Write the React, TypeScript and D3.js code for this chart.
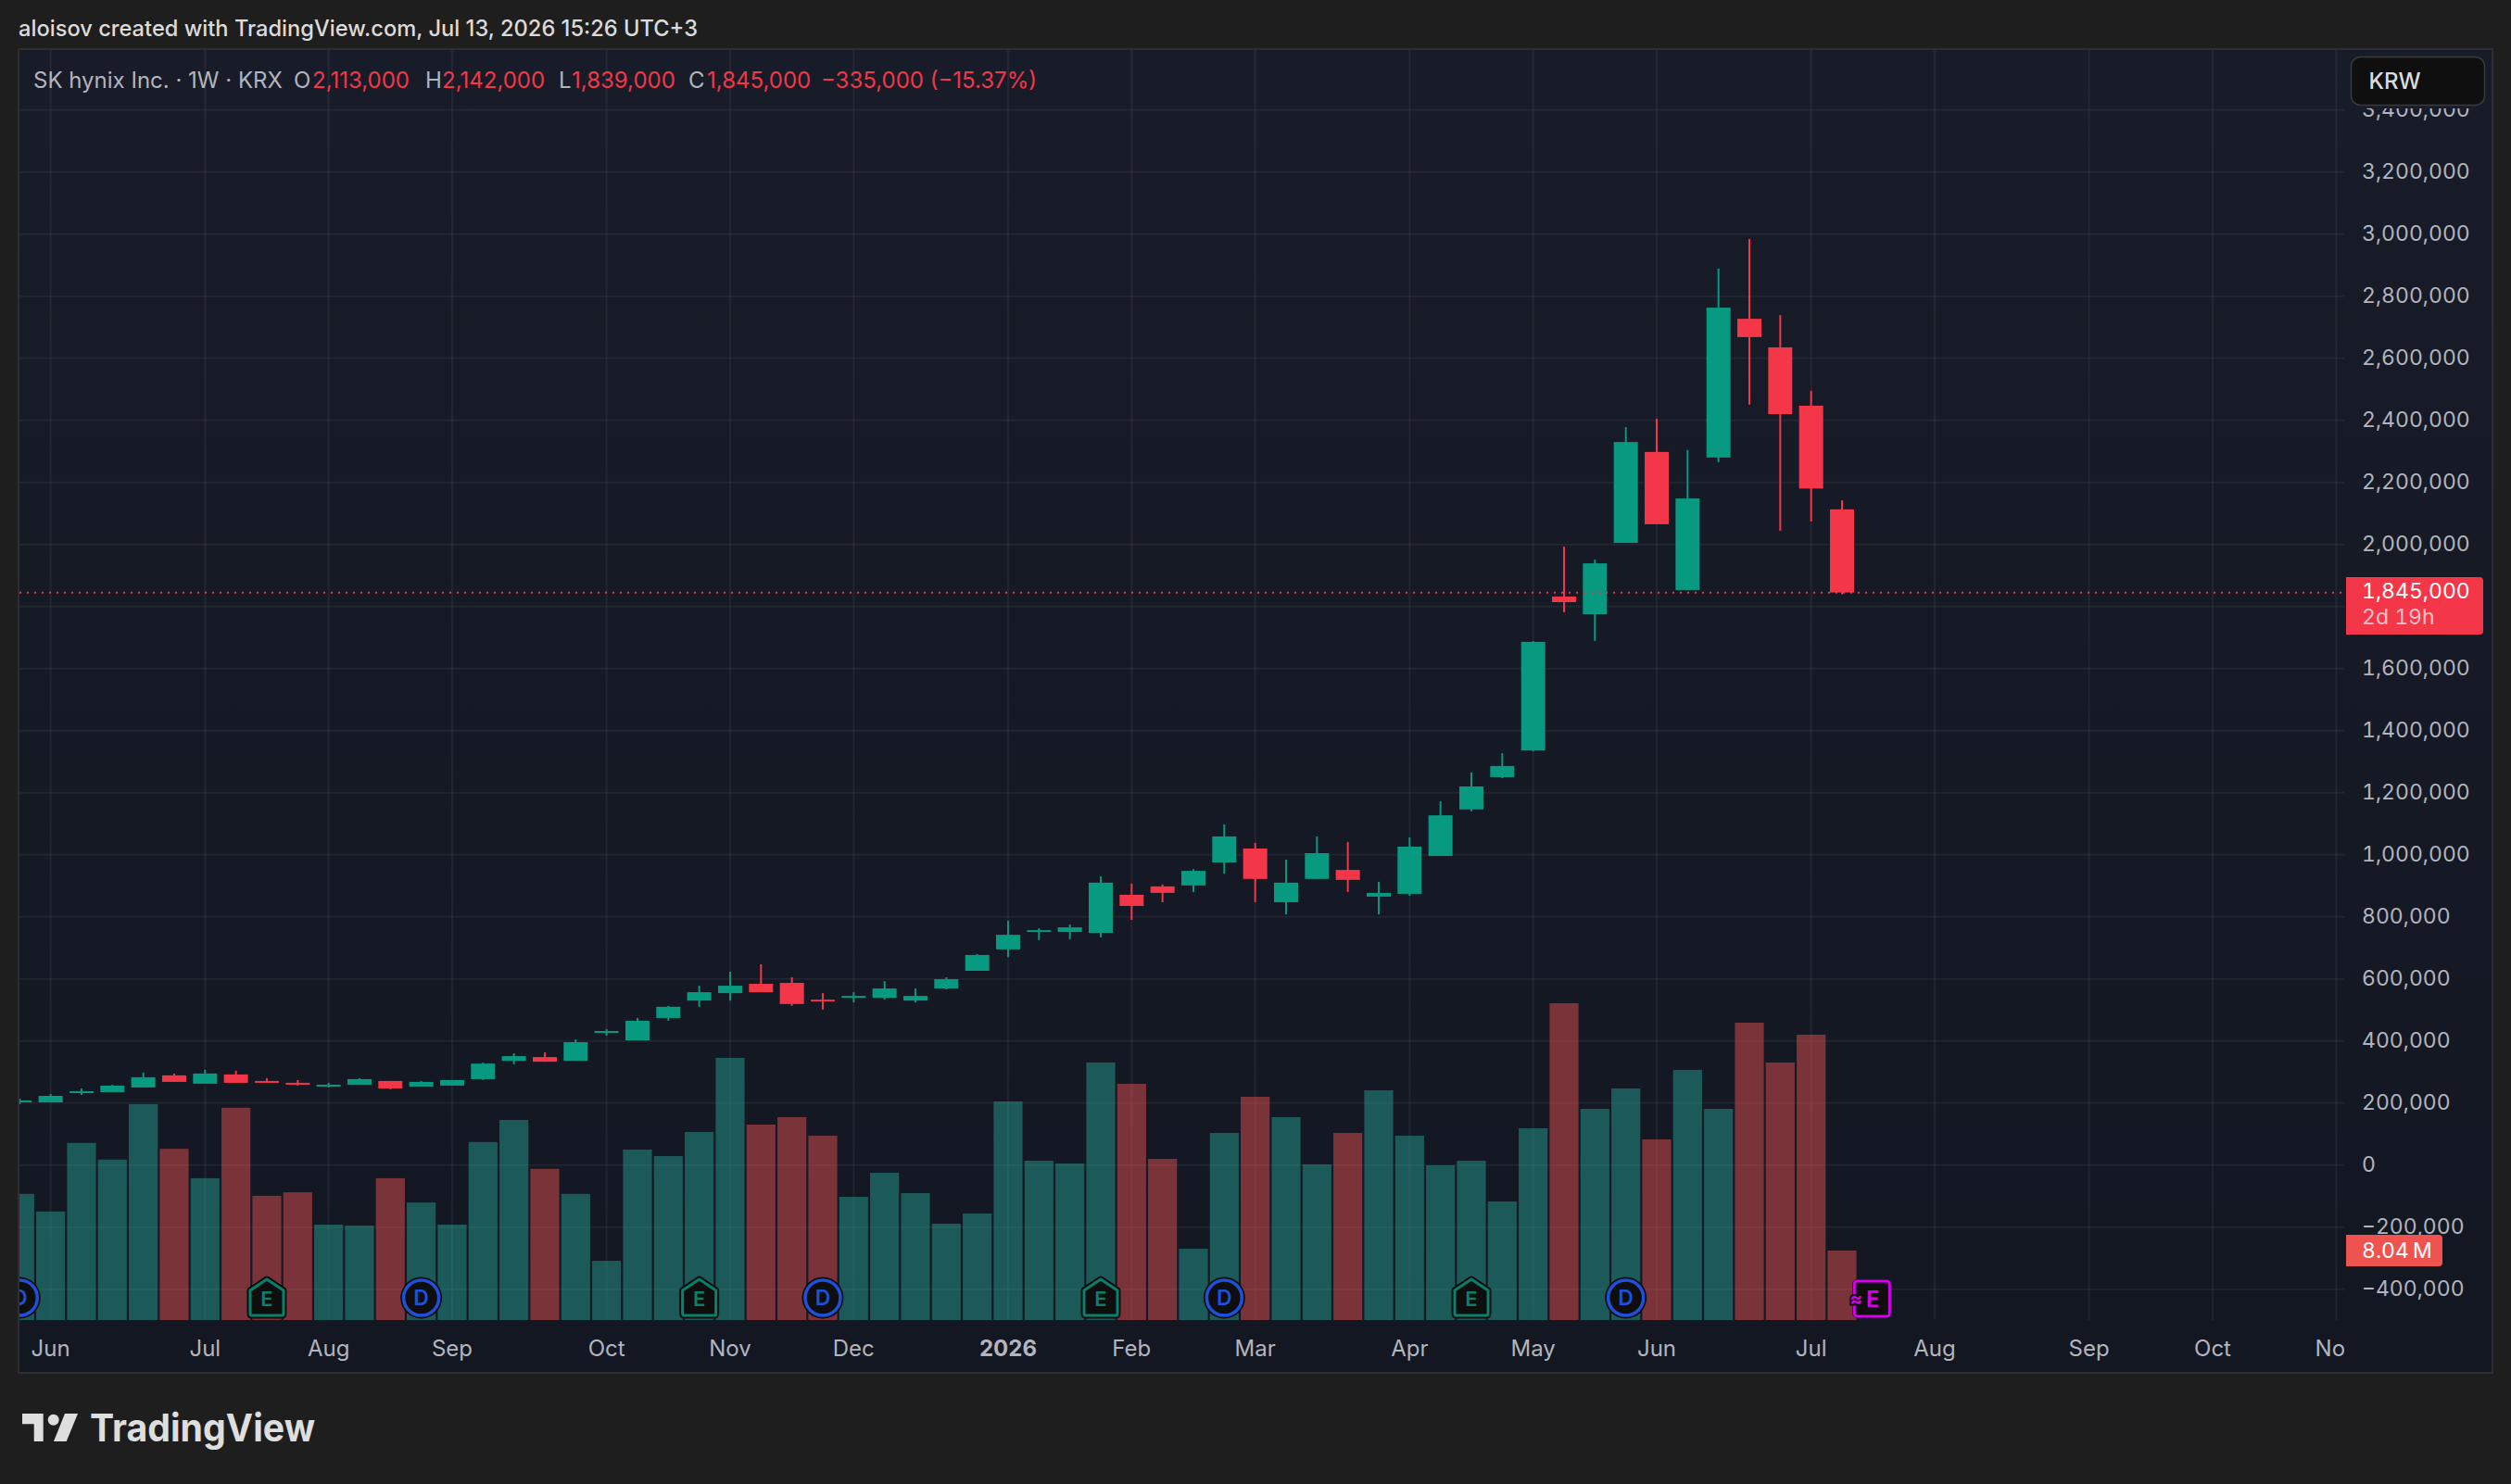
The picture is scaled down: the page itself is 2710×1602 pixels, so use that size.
import React, { useRef, useEffect } from "react";
import * as d3 from "d3";

const WIDTH = 2710;
const HEIGHT = 1602;

// weekly candles
const opens = [202000, 202000, 232000, 235000, 250000, 289000, 262000, 292000, 271000, 265000, 253000, 259000, 271000, 253000, 256000, 277000, 336000, 348000, 336000, 426000, 402000, 474000, 530000, 554000, 584000, 587000, 533000, 539000, 539000, 530000, 569000, 626000, 695000, 751000, 751000, 748000, 871000, 898000, 901000, 975000, 1020000, 847000, 922000, 951000, 865000, 874000, 996000, 1146000, 1250000, 1336000, 1832000, 1775000, 2005000, 2298000, 1853000, 2280000, 2727000, 2635000, 2447000, 2113000];
const highs = [214000, 229000, 247000, 259000, 298000, 295000, 307000, 304000, 280000, 274000, 265000, 280000, 271000, 271000, 274000, 330000, 360000, 363000, 405000, 438000, 474000, 513000, 578000, 623000, 647000, 605000, 554000, 557000, 593000, 569000, 605000, 680000, 787000, 763000, 775000, 930000, 907000, 904000, 954000, 1098000, 1038000, 984000, 1059000, 1041000, 913000, 1056000, 1172000, 1265000, 1327000, 1689000, 1993000, 1951000, 2378000, 2405000, 2304000, 2889000, 2984000, 2739000, 2495000, 2142000];
const lows = [196000, 202000, 226000, 235000, 250000, 268000, 262000, 265000, 265000, 256000, 250000, 259000, 244000, 253000, 256000, 274000, 325000, 333000, 336000, 417000, 402000, 465000, 510000, 530000, 557000, 513000, 501000, 524000, 533000, 524000, 566000, 626000, 670000, 725000, 728000, 734000, 790000, 847000, 880000, 939000, 847000, 808000, 922000, 880000, 808000, 868000, 996000, 1140000, 1247000, 1333000, 1781000, 1689000, 2005000, 2065000, 1853000, 2265000, 2450000, 2044000, 2074000, 1839000];
const closes = [208000, 223000, 238000, 256000, 283000, 268000, 295000, 265000, 265000, 259000, 259000, 277000, 247000, 268000, 274000, 327000, 351000, 333000, 396000, 432000, 465000, 510000, 557000, 578000, 557000, 519000, 527000, 545000, 569000, 545000, 599000, 677000, 742000, 757000, 766000, 910000, 835000, 877000, 948000, 1059000, 922000, 910000, 1005000, 919000, 877000, 1026000, 1127000, 1220000, 1286000, 1686000, 1814000, 1939000, 2330000, 2065000, 2148000, 2763000, 2668000, 2420000, 2180000, 1845000];
// volume in millions
const volumes = [14.6, 12.56, 20.5, 18.57, 24.98, 19.82, 16.41, 24.57, 14.38, 14.78, 11.04, 10.93, 16.41, 13.6, 11.04, 20.6, 23.16, 17.5, 14.6, 6.85, 19.72, 18.97, 21.76, 30.34, 22.62, 23.48, 21.33, 14.26, 17.04, 14.69, 11.15, 12.33, 25.3, 18.44, 18.12, 29.8, 27.34, 18.65, 8.25, 21.65, 25.84, 23.48, 18.01, 21.65, 26.59, 21.33, 17.9, 18.44, 13.72, 22.19, 36.66, 24.44, 26.8, 20.9, 28.94, 24.44, 34.41, 29.8, 33.02, 8.04];

const priceTicks = [3400000, 3200000, 3000000, 2800000, 2600000, 2400000, 2200000, 2000000, 1800000, 1600000, 1400000, 1200000, 1000000, 800000, 600000, 400000, 200000, 0, -200000, -400000];
const hiddenPriceLabel = 1800000; // sits behind the last price tag
const monthLabels = ["Jun", "Jul", "Aug", "Sep", "Oct", "Nov", "Dec", "2026", "Feb", "Mar", "Apr", "May", "Jun", "Jul", "Aug", "Sep", "Oct", "Nov"];
const monthBars = [1, 6, 10, 14, 19, 23, 27, 32, 36, 40, 45, 49, 53, 58, 62, 67, 71, 75];

const earningsBars = [8, 22, 35, 47];
const dividendBars = [0, 13, 26, 39, 52];
const nextEarningsBar = 60;

const legendParts = [
  { text: "SK hynix Inc. · 1W · KRX", x: 36, color: "#b2b5be" },
  { text: "O", x: 317, color: "#b2b5be" },
  { text: "2,113,000", x: 337, color: "#f43649" },
  { text: "H", x: 459, color: "#b2b5be" },
  { text: "2,142,000", x: 477, color: "#f43649" },
  { text: "L", x: 603, color: "#b2b5be" },
  { text: "1,839,000", x: 617, color: "#f43649" },
  { text: "C", x: 743, color: "#b2b5be" },
  { text: "1,845,000", x: 763, color: "#f43649" },
  { text: "−335,000 (−15.37%)", x: 886, color: "#f43649" },
];

const FONT = "Inter, 'Noto Sans', sans-serif";
const UP = "#089981";
const DOWN = "#f43649";
const PLOT_LEFT = 21;
const PLOT_RIGHT = 2530;
const PLOT_BOTTOM = 1425;
const PANEL_TOP = 54;

const App: React.FC = () => {
  const svgRef = useRef<SVGSVGElement | null>(null);

  useEffect(() => {
    if (!svgRef.current) return;
    const svg = d3.select(svgRef.current);
    svg.selectAll("*").remove();

    const x = d3.scaleLinear().domain([0, 59]).range([21.3, 1988]);
    const y = d3.scaleLinear().domain([3000000, -400000]).range([252.7, 1391.7]);
    const yVol = d3.scaleLinear().domain([0, 8.04]).range([PLOT_BOTTOM, 1350]);
    const bars = d3.range(opens.length);

    const defs = svg.append("defs");
    const grad = defs.append("linearGradient").attr("id", "panelBg").attr("x1", 0).attr("x2", 0).attr("y1", 0).attr("y2", 1);
    grad.append("stop").attr("offset", "0%").attr("stop-color", "#181c28");
    grad.append("stop").attr("offset", "100%").attr("stop-color", "#131722");
    defs.append("clipPath").attr("id", "plotClip").append("rect")
      .attr("x", PLOT_LEFT).attr("y", PANEL_TOP).attr("width", PLOT_RIGHT - PLOT_LEFT).attr("height", PLOT_BOTTOM - PANEL_TOP);
    defs.append("clipPath").attr("id", "timeClip").append("rect")
      .attr("x", PLOT_LEFT).attr("y", PLOT_BOTTOM).attr("width", PLOT_RIGHT - PLOT_LEFT).attr("height", 56);
    defs.append("clipPath").attr("id", "markerClip").append("rect")
      .attr("x", PLOT_LEFT).attr("y", PANEL_TOP).attr("width", PLOT_RIGHT - PLOT_LEFT).attr("height", PLOT_BOTTOM - PANEL_TOP + 4);

    svg.append("rect").attr("width", WIDTH).attr("height", HEIGHT).attr("fill", "#1e1e1e");
    svg.append("rect")
      .attr("x", 20).attr("y", 53).attr("width", 2670).attr("height", 1429)
      .attr("fill", "url(#panelBg)").attr("stroke", "#2e2e2e").attr("stroke-width", 2);

    // grid
    const grid = svg.append("g").attr("stroke", "rgba(242,242,242,0.06)").attr("stroke-width", 2);
    grid.selectAll("line.h").data(priceTicks).enter().append("line")
      .attr("x1", PLOT_LEFT).attr("x2", PLOT_RIGHT)
      .attr("y1", d => y(d)).attr("y2", d => y(d));
    grid.selectAll("line.v").data(monthBars).enter().append("line")
      .attr("x1", d => x(d)).attr("x2", d => x(d))
      .attr("y1", PANEL_TOP).attr("y2", PLOT_BOTTOM);

    const plot = svg.append("g").attr("clip-path", "url(#plotClip)");

    // volume
    plot.append("g").selectAll("rect").data(bars).enter().append("rect")
      .attr("x", i => x(i) - 15.6).attr("width", 31.2)
      .attr("y", i => yVol(volumes[i]))
      .attr("height", i => PLOT_BOTTOM - yVol(volumes[i]))
      .attr("fill", i => closes[i] >= opens[i] ? "rgba(38,166,154,0.47)" : "rgba(239,83,80,0.47)");

    // candles
    const candle = plot.append("g").selectAll("g").data(bars).enter().append("g")
      .attr("fill", i => closes[i] >= opens[i] ? UP : DOWN);
    candle.append("rect")
      .attr("x", i => x(i) - 1).attr("width", 2)
      .attr("y", i => y(highs[i]))
      .attr("height", i => y(lows[i]) - y(highs[i]));
    candle.append("rect")
      .attr("x", i => x(i) - 13).attr("width", 26)
      .attr("y", i => y(Math.max(opens[i], closes[i])))
      .attr("height", i => Math.max(2, Math.abs(y(opens[i]) - y(closes[i]))));

    // last price line
    svg.append("line")
      .attr("x1", PLOT_LEFT).attr("x2", PLOT_RIGHT)
      .attr("y1", y(closes[59])).attr("y2", y(closes[59]))
      .attr("stroke", DOWN).attr("stroke-width", 2).attr("stroke-dasharray", "2 6");

    // earnings / dividend markers
    const markers = svg.append("g").attr("clip-path", "url(#markerClip)").attr("font-family", FONT);
    const markerY = 1401;
    const pentagon = "M0,-20 L18,-8 V17 Q18,19 16,19 H-16 Q-18,19 -18,17 V-8 Z";

    const dg = markers.selectAll("g.d").data(dividendBars).enter().append("g")
      .attr("transform", d => `translate(${x(d)},${markerY})`);
    dg.append("circle").attr("r", 22.5).attr("fill", "#0e0e0e");
    dg.append("circle").attr("r", 19).attr("fill", "#0e0e0e").attr("stroke", "#1d50dc").attr("stroke-width", 3.5);
    dg.append("text").text("D").attr("text-anchor", "middle").attr("dy", "0.36em")
      .attr("fill", "#1d50dc").attr("font-size", 23).attr("font-weight", 600);

    const eg = markers.selectAll("g.e").data(earningsBars).enter().append("g")
      .attr("transform", d => `translate(${x(d)},${markerY})`);
    eg.append("path").attr("d", pentagon).attr("fill", "#0e0e0e").attr("stroke", "#0e0e0e").attr("stroke-width", 7).attr("stroke-linejoin", "round");
    eg.append("path").attr("d", pentagon).attr("fill", "#0e0e0e").attr("stroke", "#07806c").attr("stroke-width", 3).attr("stroke-linejoin", "round");
    eg.append("text").text("E").attr("text-anchor", "middle").attr("dy", "0.42em")
      .attr("fill", "#07806c").attr("font-size", 22).attr("font-weight", 600);

    const next = markers.append("g").attr("transform", `translate(${x(nextEarningsBar) - 1},${markerY + 1})`);
    next.append("rect").attr("x", -21).attr("y", -21).attr("width", 42).attr("height", 42).attr("rx", 5).attr("fill", "#0e0e0e");
    next.append("rect").attr("x", -19).attr("y", -19).attr("width", 38).attr("height", 38).attr("rx", 3)
      .attr("fill", "#0e0e0e").attr("stroke", "#d500f0").attr("stroke-width", 3);
    next.append("text").text("E").attr("x", 1).attr("text-anchor", "middle").attr("dy", "0.36em")
      .attr("fill", "#d500f0").attr("font-size", 24).attr("font-weight", 600);
    next.append("text").text("≈").attr("x", -17).attr("text-anchor", "middle").attr("dy", "0.36em")
      .attr("fill", "#d500f0").attr("font-size", 20).attr("font-weight", 700)
      .attr("stroke", "#0e0e0e").attr("stroke-width", 4).attr("paint-order", "stroke");

    // price axis
    const priceAxis = svg.append("g").attr("transform", "translate(2549,0)")
      .call(d3.axisRight(y).tickValues(priceTicks.filter(d => d !== hiddenPriceLabel)).tickSize(0).tickPadding(0).tickFormat(d3.format(",") as any));
    priceAxis.select(".domain").remove();
    priceAxis.selectAll("text").attr("font-family", FONT).attr("font-size", 23).attr("fill", "#b2b5be").attr("dy", "0.3em")
      .style("font-variant-numeric", "tabular-nums");

    // time axis
    const timeLabels = svg.append("g").attr("clip-path", "url(#timeClip)");
    timeLabels.selectAll("text").data(monthBars).enter().append("text")
      .attr("x", d => x(d)).attr("y", 1456).attr("dy", "0.34em")
      .attr("text-anchor", "middle")
      .attr("font-family", FONT).attr("font-size", 24)
      .attr("font-weight", (_, i) => monthLabels[i] === "2026" ? 700 : 400)
      .attr("fill", "#b2b5be")
      .text((_, i) => monthLabels[i]);

    // last price and volume labels
    svg.append("path")
      .attr("d", "M2532,623 H2676 a4,4 0 0 1 4,4 V681 a4,4 0 0 1 -4,4 H2532 Z")
      .attr("fill", DOWN);
    svg.append("text").text(d3.format(",")(closes[59]))
      .attr("x", 2549).attr("y", 638).attr("dy", "0.34em")
      .attr("font-family", FONT).attr("font-size", 23).attr("fill", "#ffffff")
      .style("font-variant-numeric", "tabular-nums");
    svg.append("text").text("2d 19h")
      .attr("x", 2549).attr("y", 667).attr("dy", "0.32em")
      .attr("font-family", FONT).attr("font-size", 23).attr("fill", "rgba(255,255,255,0.7)")
      .style("font-variant-numeric", "tabular-nums");

    svg.append("path")
      .attr("d", "M2532,1333 H2632 a4,4 0 0 1 4,4 V1363 a4,4 0 0 1 -4,4 H2532 Z")
      .attr("fill", "#ef5350");
    svg.append("text").text(`${volumes[59].toFixed(2)}\u202fM`)
      .attr("x", 2549).attr("y", yVol(volumes[59])).attr("dy", "0.34em")
      .attr("font-family", FONT).attr("font-size", 23).attr("fill", "#ffffff")
      .style("font-variant-numeric", "tabular-nums");

    // currency box, with a halo of panel colour that trims the tick label under it
    svg.append("rect")
      .attr("x", 2533).attr("y", 58).attr("width", 153).attr("height", 59)
      .attr("fill", "#181c28");
    svg.append("rect")
      .attr("x", 2537.5).attr("y", 61.5).attr("width", 144).attr("height", 52).attr("rx", 10)
      .attr("fill", "#0f0f0f").attr("stroke", "#3a3a3a").attr("stroke-width", 1.5);
    svg.append("text").text("KRW")
      .attr("x", 2556.5).attr("y", 96)
      .attr("font-family", FONT).attr("font-size", 24).attr("font-weight", 500).attr("fill", "#dbdbdb");

    // legend
    svg.append("g").selectAll("text").data(legendParts).enter().append("text")
      .attr("x", d => d.x).attr("y", 86).attr("dy", "0.36em")
      .attr("font-family", FONT).attr("font-size", 24)
      .attr("fill", d => d.color)
      .text(d => d.text);

    // header
    svg.append("text").text("aloisov created with TradingView.com, Jul 13, 2026 15:26 UTC+3")
      .attr("x", 20).attr("y", 39)
      .attr("font-family", FONT).attr("font-size", 24).attr("font-weight", 500).attr("fill", "#dbdbdb")
      .attr("textLength", 733).attr("lengthAdjust", "spacingAndGlyphs");

    // logo
    const logo = svg.append("g").attr("fill", "#dedede");
    logo.append("path").attr("d", "M24,1526 H46.7 V1556 H36.7 V1537.3 H24 Z");
    logo.append("circle").attr("cx", 57.7).attr("cy", 1532.7).attr("r", 6);
    logo.append("path").attr("d", "M70,1526 H84 L71.7,1556 H58 Z");
    logo.append("text").text("TradingView")
      .attr("x", 97).attr("y", 1556)
      .attr("font-family", FONT).attr("font-size", 41).attr("font-weight", 700)
      .attr("textLength", 243).attr("lengthAdjust", "spacingAndGlyphs");
  }, []);

  return <svg ref={svgRef} width={WIDTH} height={HEIGHT} style={{ position: "fixed", left: 0, top: 0 }}></svg>;
};

export default App;
